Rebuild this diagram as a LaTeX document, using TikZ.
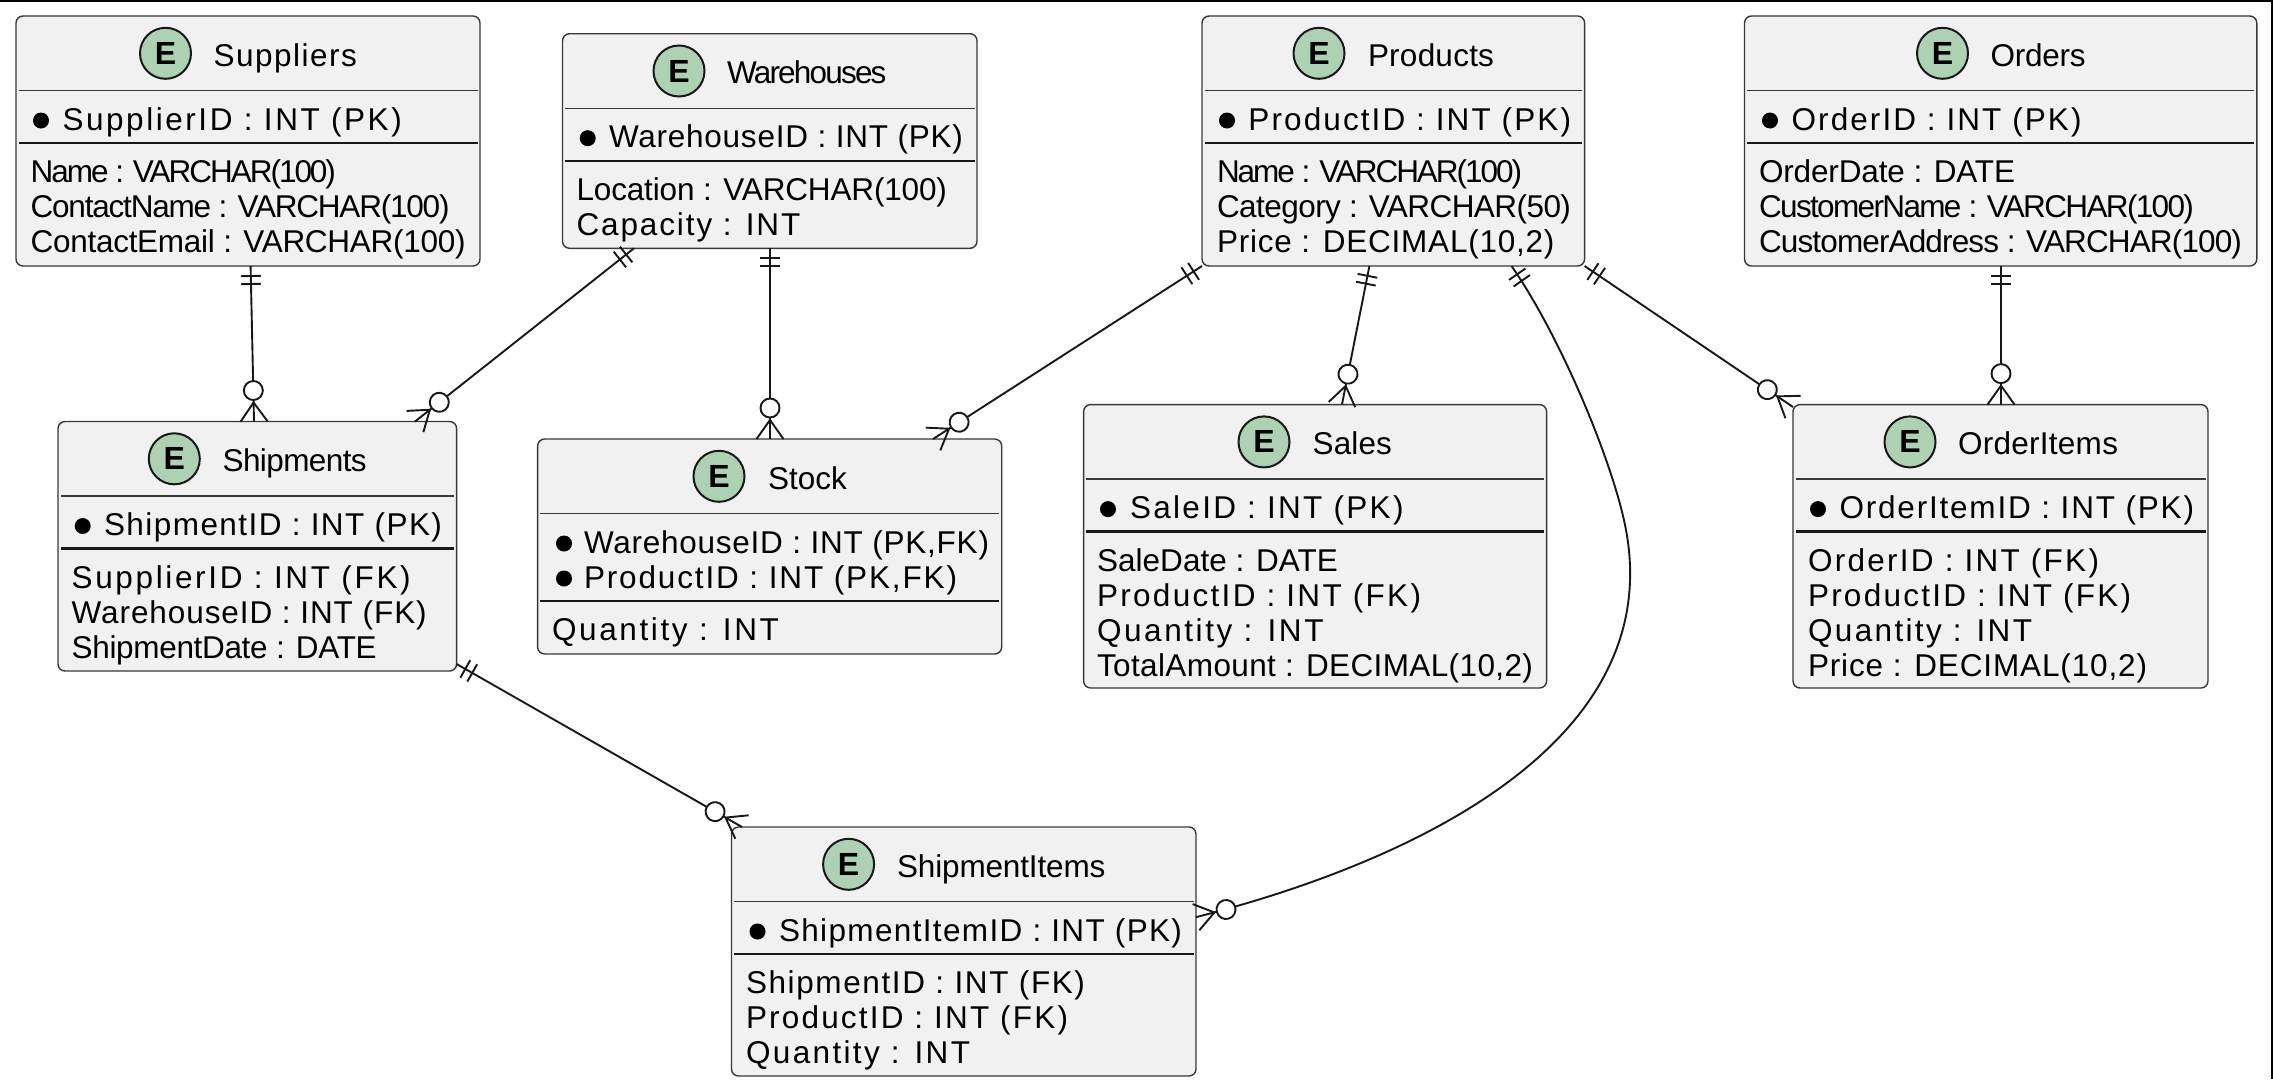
\documentclass[tikz,border=0pt]{standalone}
\usepackage{fontspec}
\setmainfont{Liberation Sans}
\definecolor{boxfill}{HTML}{F1F1F1}
\definecolor{ink}{HTML}{181818}
\definecolor{edge}{HTML}{383838}
\definecolor{spotgreen}{HTML}{ADD1B2}
\newcounter{tn}
\newsavebox\mboxa
\newsavebox\mboxb
\newcommand\spaced[2]{%
  \sbox\mboxa{#2}\sbox\mboxb{\addfontfeature{LetterSpace=10}#2}%
  \pgfmathsetmacro\lsval{10*((#1)-\the\wd\mboxa)/(\the\wd\mboxb-\the\wd\mboxa)}%
  \addfontfeature{LetterSpace=\lsval}#2}
\newcommand\lbl[4]{% left, right, baseline, text
  \stepcounter{tn}%
  \node[label text] (txt\arabic{tn}) at ({#1},{#3}) {\spaced{(#2)-(#1)}{#4}};}
\newcommand\ent[6]{% name, x0, top, x1, bottom, primary-key rows
  \node[entity, minimum width={#4-#2}, minimum height={#5-#3}] (#1) at ({(#2+#4)/2},{(#3+#5)/2}) {};
  \pgfmathsetmacro\T{#3}%
  \pgfmathsetmacro\H{#3+74.5}%
  \pgfmathsetmacro\S{#3+127+35*(#6-1)}%
  \draw[thinsep] ({#2+2.5},\H) -- ({#4-2.5},\H);
  \draw[thicksep] ({#2+2.5},\S) -- ({#4-2.5},\S);}
\newcommand\ttl[4]{% spot centre, title left, title right, title
  \stepcounter{tn}%
  \node[spot] (spot\arabic{tn}) at ({#1},{\T+37.3}) {\bfseries E};
  \lbl{#2}{#3}{\T+50}{#4}}
\newcommand\pk[5]{% dot centre, left, right, row, text
  \stepcounter{tn}%
  \node[dotmark] (dot\arabic{tn}) at ({#1},{\T+104.5+35*(#4-1)}) {};
  \lbl{#2}{#3}{\T+114.2+35*(#4-1)}{#5}}
\newcommand\rw[4]{% left, right, row, text
  \lbl{#1}{#2}{\S+39.5+35*(#3-1)}{#4}}
\tikzset{
  x=1pt,y=-1pt,
  entity/.style={draw=edge,fill=boxfill,line width=1.4pt,rounded corners=7pt,inner sep=0pt,outer sep=0pt},
  thinsep/.style={draw=edge,line width=1.4pt},
  thicksep/.style={draw=ink,line width=2.4pt},
  label text/.style={anchor=base west,inner sep=0pt,outer sep=0pt,text=black,font=\fontsize{31.5}{35}\selectfont},
  spot/.style={circle,draw=ink,fill=spotgreen,line width=2pt,minimum size=51pt,inner sep=0pt,text=black,font=\fontsize{32}{35}\selectfont},
  dotmark/.style={circle,fill=black,minimum size=16pt,inner sep=0pt},
  conn/.style={draw=ink,line width=1.9pt},
  ends/.style={pos=#1,sloped,allow upside down},
  crowpic/.pic={
    \draw[conn] (-19,0) -- (0,13.5) (-19,0) -- (0,-13.5);
    \filldraw[conn,fill=white] (-31,0) circle[radius=9.5];},
  barspic/.pic={
    \draw[conn] (10,-10) -- (10,10) (18,-10) -- (18,10);},
}
\begin{document}
\begin{tikzpicture}
\useasboundingbox (0,0) rectangle (2273,1079);
\fill[white] (0,0) rectangle (2273,1079);
\fill[black] (0,0) rectangle (2273,1.8);
\fill[black] (2271.4,0) rectangle (2273,1079);

\ent{suppliers}{16}{16}{480}{266}{1}
\ttl{165.5}{213.6}{357}{Suppliers}
\pk{41}{62.5}{401.8}{1}{SupplierID : INT (PK)}
\rw{30.6}{336}{1}{Name : VARCHAR(100)}
\rw{30.6}{449.6}{2}{ContactName : VARCHAR(100)}
\rw{30.6}{465.6}{3}{ContactEmail : VARCHAR(100)}

\ent{warehouses}{562.5}{33.7}{977}{248.3}{1}
\ttl{679}{727}{886.5}{Warehouses}
\pk{587.7}{609}{963}{1}{WarehouseID : INT (PK)}
\rw{576.5}{947}{1}{Location : VARCHAR(100)}
\rw{576.5}{800.4}{2}{Capacity : INT}

\ent{products}{1202}{16}{1584.6}{266}{1}
\ttl{1319}{1368}{1494}{Products}
\pk{1227}{1248.4}{1571}{1}{ProductID : INT (PK)}
\rw{1217}{1522}{1}{Name : VARCHAR(100)}
\rw{1217}{1571}{2}{Category : VARCHAR(50)}
\rw{1217}{1554.5}{3}{Price : DECIMAL(10,2)}

\ent{orders}{1744.5}{16}{2256.8}{266}{1}
\ttl{1942.5}{1990.5}{2085.5}{Orders}
\pk{1770}{1791.6}{2081.5}{1}{OrderID : INT (PK)}
\rw{1759}{2015}{1}{OrderDate : DATE}
\rw{1759}{2194}{2}{CustomerName : VARCHAR(100)}
\rw{1759}{2242}{3}{CustomerAddress : VARCHAR(100)}

\ent{shipments}{58}{421.5}{456.6}{671}{1}
\ttl{174.3}{222.6}{366.7}{Shipments}
\pk{82.7}{104}{442}{1}{ShipmentID : INT (PK)}
\rw{71.7}{410.7}{1}{SupplierID : INT (FK)}
\rw{71.7}{426.7}{2}{WarehouseID : INT (FK)}
\rw{71.7}{376.7}{3}{ShipmentDate : DATE}

\ent{stock}{537.6}{439}{1001.7}{654}{2}
\ttl{719}{768}{847}{Stock}
\pk{564}{584}{989}{1}{WarehouseID : INT (PK,FK)}
\pk{564}{584}{957}{2}{ProductID : INT (PK,FK)}
\rw{552}{779}{1}{Quantity : INT}

\ent{sales}{1083.6}{404.6}{1546.6}{688}{1}
\ttl{1264}{1312.6}{1392}{Sales}
\pk{1108}{1130}{1403.5}{1}{SaleID : INT (PK)}
\rw{1097}{1338}{1}{SaleDate : DATE}
\rw{1097}{1421}{2}{ProductID : INT (FK)}
\rw{1097}{1323.5}{3}{Quantity : INT}
\rw{1097}{1533}{4}{TotalAmount : DECIMAL(10,2)}

\ent{orderitems}{1793}{404.6}{2208}{688}{1}
\ttl{1910}{1958}{2118}{OrderItems}
\pk{1818}{1839.5}{2194}{1}{OrderItemID : INT (PK)}
\rw{1808}{2099}{1}{OrderID : INT (FK)}
\rw{1808}{2131}{2}{ProductID : INT (FK)}
\rw{1808}{2032}{3}{Quantity : INT}
\rw{1808}{2147}{4}{Price : DECIMAL(10,2)}

\ent{shipmentitems}{731.5}{827}{1196}{1076}{1}
\ttl{848.6}{897}{1105.4}{ShipmentItems}
\pk{757.5}{779}{1182}{1}{ShipmentItemID : INT (PK)}
\rw{746}{1085}{1}{ShipmentID : INT (FK)}
\rw{746}{1068}{2}{ProductID : INT (FK)}
\rw{746}{970}{3}{Quantity : INT}

\draw[conn] ([xshift=2.6pt]suppliers.south) -- ([xshift=-3.3pt]shipments.north)
  pic[ends=0]{barspic} pic[ends=1]{crowpic};
\draw[conn] ([xshift=-135.75pt]warehouses.south) -- ([xshift=157.7pt]shipments.north)
  pic[ends=0]{barspic} pic[ends=1]{crowpic};
\draw[conn] ([xshift=0.25pt]warehouses.south) -- ([xshift=0.35pt]stock.north)
  pic[ends=0]{barspic} pic[ends=1]{crowpic};
\draw[conn] (products.south west) -- ([xshift=163.4pt]stock.north)
  pic[ends=0]{barspic} pic[ends=1]{crowpic};
\draw[conn] ([xshift=-23.9pt]products.south) -- ([xshift=26.85pt]sales.north)
  pic[ends=0]{barspic} pic[ends=1]{crowpic};
\draw[conn] (products.south east) -- ([yshift=-2.4pt]orderitems.north west)
  pic[ends=0]{barspic} pic[ends=1]{crowpic};
\draw[conn] ([xshift=0.35pt]orders.south) -- ([xshift=0.5pt]orderitems.north)
  pic[ends=0]{barspic} pic[ends=1]{crowpic};
\draw[conn] ([yshift=-117.75pt]shipments.east) -- ([xshift=-221.75pt]shipmentitems.north)
  pic[ends=0]{barspic} pic[ends=1]{crowpic};
\draw[conn] ([xshift=118.2pt]products.south) .. controls (1561,337) and (1614,465) .. (1626,530)
  pic[ends=0]{barspic};
\draw[conn] (1626,530) .. controls (1665,740) and (1420,860) .. ([yshift=34.35pt]shipmentitems.east)
  pic[ends=1]{crowpic};
\end{tikzpicture}
\end{document}
